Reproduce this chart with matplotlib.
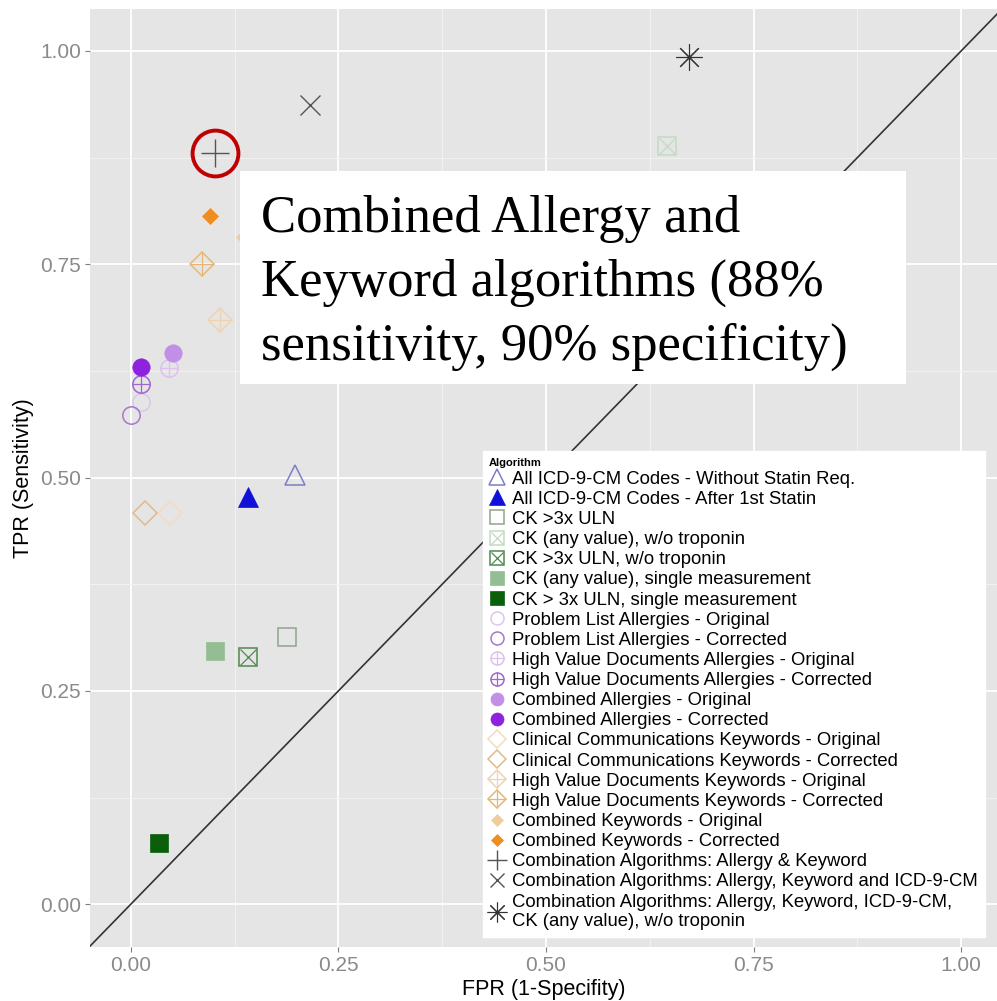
import matplotlib
matplotlib.use("Agg")
import matplotlib.pyplot as plt
from matplotlib.lines import Line2D
from matplotlib.legend_handler import HandlerTuple
from matplotlib.patches import Rectangle

# ---------------- data ----------------
algorithms = [
    "All ICD-9-CM Codes - Without Statin Req.",
    "All ICD-9-CM Codes - After 1st Statin",
    "CK >3x ULN",
    "CK (any value), w/o troponin",
    "CK >3x ULN, w/o troponin",
    "CK (any value), single measurement",
    "CK > 3x ULN, single measurement",
    "Problem List Allergies - Original",
    "Problem List Allergies - Corrected",
    "High Value Documents Allergies - Original",
    "High Value Documents Allergies - Corrected",
    "Combined Allergies - Original",
    "Combined Allergies - Corrected",
    "Clinical Communications Keywords - Original",
    "Clinical Communications Keywords - Corrected",
    "High Value Documents Keywords - Original",
    "High Value Documents Keywords - Corrected",
    "Combined Keywords - Original",
    "Combined Keywords - Corrected",
    "Combination Algorithms: Allergy & Keyword",
    "Combination Algorithms: Allergy, Keyword and ICD-9-CM",
    "Combination Algorithms: Allergy, Keyword, ICD-9-CM,\nCK (any value), w/o troponin",
]
fpr = [0.198, 0.141, 0.188, 0.646, 0.141, 0.102, 0.034,
       0.013, 0.000, 0.046, 0.012, 0.051, 0.012,
       0.047, 0.017, 0.107, 0.086, 0.137, 0.096,
       0.102, 0.216, 0.672]
tpr = [0.503, 0.477, 0.313, 0.888, 0.290, 0.297, 0.072,
       0.589, 0.573, 0.628, 0.610, 0.646, 0.630,
       0.458, 0.458, 0.685, 0.750, 0.782, 0.807,
       0.880, 0.936, 0.993]

x_ticks = [0.00, 0.25, 0.50, 0.75, 1.00]
y_ticks = [0.00, 0.25, 0.50, 0.75, 1.00]
tick_labels = ["0.00", "0.25", "0.50", "0.75", "1.00"]

highlight_index = 19
annotation_lines = ["Combined Allergy and",
                    "Keyword algorithms (88%",
                    "sensitivity, 90% specificity)"]

# ---------------- styles ----------------
# each style: list of (marker, size, facecolor, edgecolor, edgewidth)
def op(m, s, c, w=1.1):
    return (m, s, "none", c, w)

def fl(m, s, c):
    return (m, s, c, c, 0.5)

styles = [
    [op("^", 15, "#7d7dc4")],
    [fl("^", 15, "#1010d8")],
    [op("s", 13, "#8ba68b")],
    [op("s", 13, "#c2dac2"), op("x", 12, "#c2dac2", 0.9)],
    [op("s", 13, "#4f8a4f"), op("x", 12, "#4f8a4f", 0.9)],
    [fl("s", 13, "#93bd93")],
    [fl("s", 13, "#0b5e0b")],
    [op("o", 12.5, "#dcc6ee")],
    [op("o", 12.5, "#a677cc")],
    [op("o", 12.5, "#dcc0ee"), op("+", 12.5, "#dcc0ee", 0.9)],
    [op("o", 12.5, "#a066d0"), op("+", 12.5, "#a066d0", 0.9)],
    [fl("o", 12.5, "#c28fe6")],
    [fl("o", 12.5, "#8f22de")],
    [op("D", 12, "#f2dcc2")],
    [op("D", 12, "#e2ba8c")],
    [op("D", 12, "#efd2b0"), op("+", 17, "#efd2b0", 0.9)],
    [op("D", 12, "#e6b774"), op("+", 17, "#e6b774", 0.9)],
    [fl("D", 8.5, "#f2cc98")],
    [fl("D", 8.5, "#f08c20")],
    [op("+", 20, "#555555", 1.0)],
    [op("x", 14, "#555555", 1.0)],
    [op((8, 2, 0), 19, "#333333", 0.8)],
]

# ---------------- figure ----------------
W, H = 997, 1001
fig = plt.figure(figsize=(W / 100, H / 100), dpi=100)
fig.patch.set_facecolor("white")
ax = fig.add_axes([90 / W, 1 - 947 / H, (997 - 90) / W, (947 - 9) / H])
ax.set_facecolor("#e5e5e5")
ax.set_xlim(-0.049, 1.043)
ax.set_ylim(-0.05, 1.049)

for s in ax.spines.values():
    s.set_visible(False)

ax.set_xticks(x_ticks)
ax.set_xticklabels(tick_labels)
ax.set_yticks(y_ticks)
ax.set_yticklabels(tick_labels)
ax.set_xticks([0.125, 0.375, 0.625, 0.875], minor=True)
ax.set_yticks([0.125, 0.375, 0.625, 0.875], minor=True)
ax.grid(True, which="major", color="white", linewidth=1.3)
ax.grid(True, which="minor", color="#f2f2f2", linewidth=0.7)
ax.set_axisbelow(True)
ax.tick_params(which="major", length=3.5, width=0.8, color="#7f7f7f",
               labelcolor="#8a8a8a", labelsize=15, pad=3)
ax.tick_params(which="minor", length=0)
for lab in ax.get_xticklabels() + ax.get_yticklabels():
    lab.set_family("Liberation Sans")

ax.set_xlabel("FPR (1-Specifity)", fontsize=15.5, family="Liberation Sans", labelpad=3)
ax.set_ylabel("TPR (Sensitivity)", fontsize=15.5, family="Liberation Sans", labelpad=4)

# diagonal reference line
ax.axline((0, 0), (1, 1), color="#333333", linewidth=1.2, zorder=2)

# points
handles = []
for i, (x, y) in enumerate(zip(fpr, tpr)):
    parts = []
    for (m, s, fc, ec, w) in styles[i]:
        ax.plot([x], [y], linestyle="none", marker=m, markersize=s,
                markerfacecolor=fc, markeredgecolor=ec, markeredgewidth=w, zorder=3)
        parts.append(Line2D([], [], linestyle="none", marker=m, markersize=s * 0.75,
                            markerfacecolor=fc, markeredgecolor=ec, markeredgewidth=w))
    handles.append(tuple(parts) if len(parts) > 1 else parts[0])

# red highlight circle
ax.plot([fpr[highlight_index]], [tpr[highlight_index]], linestyle="none", marker="o",
        markersize=33, markerfacecolor="none", markeredgecolor="#c00000",
        markeredgewidth=2.8, zorder=4)

# annotation box
box = Rectangle((240 / W, 1 - 384 / H), (906 - 240) / W, (384 - 171) / H,
                transform=fig.transFigure, facecolor="white", edgecolor="none", zorder=5)
fig.patches.append(box)
for k, line in enumerate(annotation_lines):
    fig.text(261 / W, 1 - (232 + 64 * k) / H, line, fontsize=38,
             family="Liberation Serif", va="baseline", ha="left", zorder=6)

leg = ax.legend(handles, algorithms, loc="lower left", bbox_to_anchor=(0.433, 0.011),
                handler_map={tuple: HandlerTuple(ndivide=1, pad=0)},
                prop={"family": "Liberation Sans", "size": 13.3},
                title="Algorithm", title_fontproperties={"family": "Liberation Sans",
                                                         "weight": "bold", "size": 8},
                frameon=True, fancybox=False, framealpha=1, edgecolor="white",
                handlelength=0.85, handletextpad=0.4, labelspacing=0.17,
                borderpad=0.35, borderaxespad=0, alignment="left")
leg.set_zorder(7)

fig.savefig("out.png", dpi=100)
